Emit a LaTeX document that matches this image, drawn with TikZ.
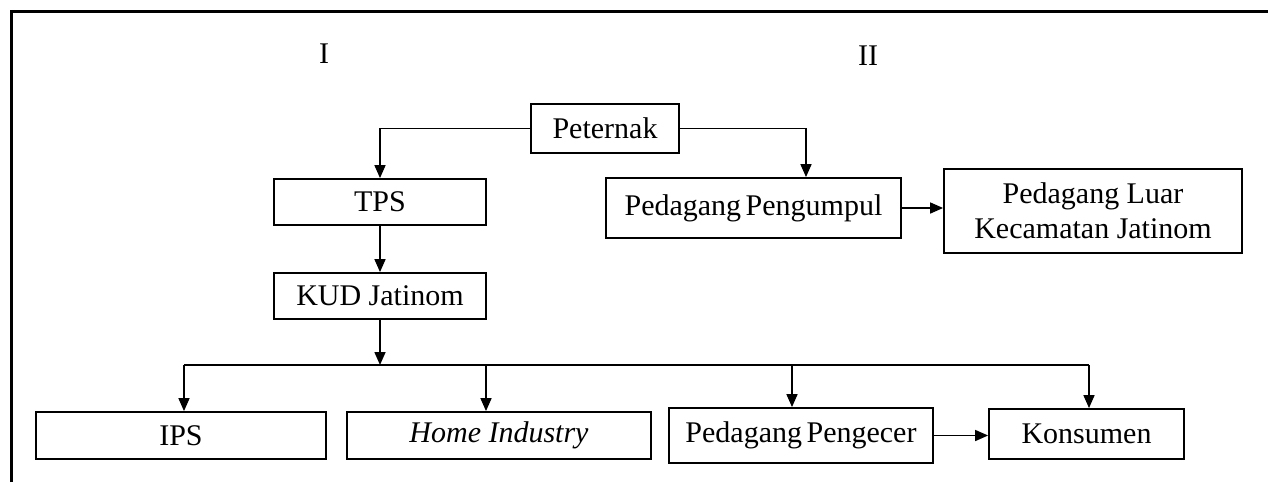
\documentclass[tikz,border=0pt]{standalone}
\usepackage{fontspec}
\setmainfont{Liberation Serif}
\usetikzlibrary{arrows.meta}
\begin{document}
\begin{tikzpicture}[x=1pt,y=-1pt,
  txt/.style={font=\fontsize{30}{35}\selectfont},
  box/.style={txt,draw,line width=1.8pt,inner sep=0pt,align=center},
  conn/.style={line width=1.6pt,-{Triangle[width=11pt,length=13pt]}},
  bus/.style={line width=1.6pt}]
\useasboundingbox (0,0) rectangle (1268,482);
\draw[line width=3pt] (11,482) -- (11,11) -- (1268,11);
\node[txt] (lab1) at (324,54) {I};
\node[txt] (lab2) at (868,56) {II};
\node[box,minimum width=148pt,minimum height=49pt] (pet) at (605,128.5) {Peternak};
\node[box,minimum width=212pt,minimum height=46pt] (tps) at (380,202) {TPS};
\node[box,minimum width=212pt,minimum height=46pt] (kud) at (380,296) {KUD Jatinom};
\node[box,minimum width=295pt,minimum height=60pt] (pp) at (753.5,208) {Pedagang\hspace{0.15em}Pengumpul};
\node[box,minimum width=298pt,minimum height=84pt] (pl) at (1093,211) {Pedagang Luar\\Kecamatan Jatinom};
\node[box,minimum width=290pt,minimum height=47pt] (ips) at (181,435.5) {IPS};
\node[box,minimum width=304pt,minimum height=47pt] (home) at (499,435.5) {\itshape Home Industry};
\node[box,minimum width=264pt,minimum height=55pt] (ppeng) at (801,435.5) {Pedagang\hspace{0.15em}Pengecer};
\node[box,minimum width=195pt,minimum height=50pt] (kons) at (1086.5,434) {Konsumen};
\draw[conn] (pet.west) -| (tps.north);
\draw[conn] (pet.east) -| ([xshift=52.5pt]pp.north);
\draw[conn] (pp.east) -- (pp.east -| pl.west);
\draw[conn] (tps.south) -- (kud.north);
\coordinate (busM) at (380,365);
\coordinate (busA) at (184,365);
\coordinate (busB) at (486,365);
\coordinate (busC) at (792,365);
\coordinate (busD) at (1089,365);
\draw[conn] (kud.south) -- (busM);
\draw[bus] (busA) -- (busD);
\draw[conn] (busA) -- (busA |- ips.north);
\draw[conn] (busB) -- (busB |- home.north);
\draw[conn] (busC) -- (busC |- ppeng.north);
\draw[conn] (busD) -- (busD |- kons.north);
\draw[conn] (ppeng.east) -- (ppeng.east -| kons.west);
\end{tikzpicture}
\end{document}
